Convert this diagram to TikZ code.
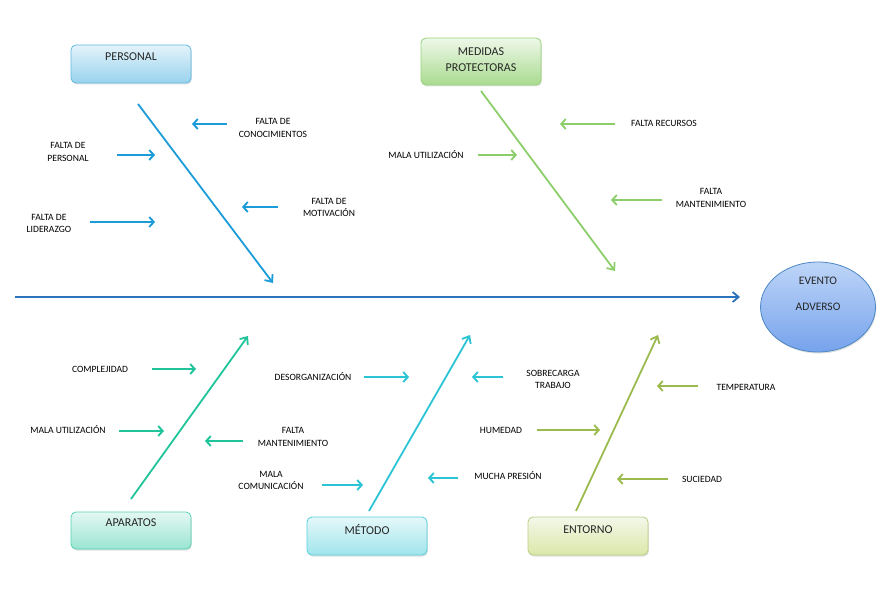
\documentclass[tikz,border=0pt]{standalone}
\usepackage{fontspec}
\setmainfont{Carlito}
\usetikzlibrary{arrows.meta,shapes.geometric,shadows}
\definecolor{spineC}{HTML}{2C73BB}
\definecolor{perC}{HTML}{1B9CD8}
\definecolor{medC}{HTML}{8CCF6A}
\definecolor{apaC}{HTML}{1FC49A}
\definecolor{metC}{HTML}{2AC4D4}
\definecolor{entC}{HTML}{9BBB4F}
\tikzset{
  bone/.style={line width=1.8pt,-{Straight Barb[length=6pt,width=10pt,line width=1.8pt]}},
  twig/.style={line width=2.2pt,-{Straight Barb[length=4.5pt,width=10pt,line width=1.9pt]}},
  lbl/.style={font=\fontsize{9.6}{12.5}\selectfont, align=center, text=black, inner sep=0pt},
  boxtext/.style={font=\fontsize{12}{16}\selectfont, align=center, text=black!85, inner sep=0pt},
  catbox/.style={draw, line width=0.8pt, rounded corners=5pt, minimum width=120pt,
     drop shadow={opacity=0.25, shadow xshift=0.8pt, shadow yshift=-1.5pt}},
}
\begin{document}
\begin{tikzpicture}[x=1pt,y=-1pt]
\useasboundingbox (0,0) rectangle (885,607);
% effect
\node[ellipse, draw=spineC!85, line width=0.8pt, top color={rgb,255:red,190;green,213;blue,248}, bottom color={rgb,255:red,118;green,163;blue,236},
  minimum width=115pt, minimum height=90pt,
  drop shadow={opacity=0.25, shadow xshift=0.8pt, shadow yshift=-1.5pt}] (evento) at (818,307) {};
\node[boxtext, font=\fontsize{11.5}{14}\selectfont] (eventoT) at (818,281) {EVENTO};
\node[boxtext, font=\fontsize{11.5}{14}\selectfont] (adversoT) at (818,307) {ADVERSO};
% spine
\coordinate (sp0) at (15,297);
\coordinate (sp1) at (740,297);
\draw[spineC, line width=1.8pt, -{Straight Barb[length=6pt,width=10pt,line width=1.8pt]}] (sp0) -- (sp1);

% boxes
\node[catbox, draw=perC!70, top color=perC!12, bottom color=perC!45, minimum height=38pt] (personal) at (131,64) {};
\node[boxtext] (personalT) at (131,57) {PERSONAL};
\node[catbox, draw=medC!90, top color=medC!15, bottom color=medC!75, minimum height=47pt] (medidas) at (481,61.5) {};
\node[boxtext] (medidasT) at (481,60) {MEDIDAS\\PROTECTORAS};
\node[catbox, draw=apaC!75, top color=apaC!12, bottom color=apaC!45, minimum height=37pt] (aparatos) at (131,530.5) {};
\node[boxtext] (aparatosT) at (131,523) {APARATOS};
\node[catbox, draw=metC!80, top color=metC!12, bottom color=metC!45, minimum height=38pt] (metodo) at (367,536) {};
\node[boxtext] (metodoT) at (367,530) {MÉTODO};
\node[catbox, draw=entC!70, top color=yellow!8!entC!12, bottom color=yellow!20!entC!45, minimum height=38pt] (entorno) at (588,536) {};
\node[boxtext] (entornoT) at (588,530) {ENTORNO};

% bones
\coordinate (b1s) at (138,104); \coordinate (b1e) at (273,283);
\coordinate (b2s) at (481,91);  \coordinate (b2e) at (615,271);
\coordinate (b3s) at (131,499); \coordinate (b3e) at (248,336);
\coordinate (b4s) at (369,511); \coordinate (b4e) at (470,335);
\coordinate (b5s) at (576,511); \coordinate (b5e) at (658,335);
\draw[bone, perC] (b1s) -- (b1e);
\draw[bone, medC] (b2s) -- (b2e);
\draw[bone, apaC] (b3s) -- (b3e);
\draw[bone, metC] (b4s) -- (b4e);
\draw[bone, entC] (b5s) -- (b5e);

% PERSONAL causes
\node[lbl] (p1) at (273,128) {FALTA DE\\CONOCIMIENTOS};
\coordinate (p1a) at (227,124); \coordinate (p1b) at (192,124);
\draw[twig, perC] (p1a) -- (p1b);
\node[lbl] (p2) at (68,152) {FALTA DE\\PERSONAL};
\coordinate (p2a) at (117,155); \coordinate (p2b) at (155,155);
\draw[twig, perC] (p2a) -- (p2b);
\node[lbl] (p3) at (49,223.5) {FALTA DE\\LIDERAZGO};
\coordinate (p3a) at (90,222); \coordinate (p3b) at (155,222);
\draw[twig, perC] (p3a) -- (p3b);
\node[lbl] (p4) at (329,207.5) {FALTA DE\\MOTIVACIÓN};
\coordinate (p4a) at (278,207); \coordinate (p4b) at (242,207);
\draw[twig, perC] (p4a) -- (p4b);

% MEDIDAS causes
\node[lbl] (m1) at (664,123) {FALTA RECURSOS};
\coordinate (m1a) at (615,124); \coordinate (m1b) at (560,124);
\draw[twig, medC] (m1a) -- (m1b);
\node[lbl] (m2) at (426,155) {MALA UTILIZACIÓN};
\coordinate (m2a) at (478,155); \coordinate (m2b) at (517,155);
\draw[twig, medC] (m2a) -- (m2b);
\node[lbl] (m3) at (711,198) {FALTA\\MANTENIMIENTO};
\coordinate (m3a) at (662,200); \coordinate (m3b) at (611,200);
\draw[twig, medC] (m3a) -- (m3b);

% APARATOS causes
\node[lbl] (a1) at (100,369) {COMPLEJIDAD};
\coordinate (a1a) at (152,369); \coordinate (a1b) at (196,369);
\draw[twig, apaC] (a1a) -- (a1b);
\node[lbl] (a2) at (68,430) {MALA UTILIZACIÓN};
\coordinate (a2a) at (119,431); \coordinate (a2b) at (164,431);
\draw[twig, apaC] (a2a) -- (a2b);
\node[lbl] (a3) at (293,437) {FALTA\\MANTENIMIENTO};
\coordinate (a3a) at (243,441); \coordinate (a3b) at (205,441);
\draw[twig, apaC] (a3a) -- (a3b);

% METODO causes
\node[lbl] (t1) at (313,377) {DESORGANIZACIÓN};
\coordinate (t1a) at (364,377); \coordinate (t1b) at (409,377);
\draw[twig, metC] (t1a) -- (t1b);
\node[lbl] (t2) at (553,379.5) {SOBRECARGA\\TRABAJO};
\coordinate (t2a) at (503,377); \coordinate (t2b) at (472,377);
\draw[twig, metC] (t2a) -- (t2b);
\node[lbl] (t3) at (271,480.5) {MALA\\COMUNICACIÓN};
\coordinate (t3a) at (322,485); \coordinate (t3b) at (363,485);
\draw[twig, metC] (t3a) -- (t3b);
\node[lbl] (t4) at (508,476) {MUCHA PRESIÓN};
\coordinate (t4a) at (458,478); \coordinate (t4b) at (428,478);
\draw[twig, metC] (t4a) -- (t4b);

% ENTORNO causes
\node[lbl] (e1) at (501,430) {HUMEDAD};
\coordinate (e1a) at (537,430); \coordinate (e1b) at (600,430);
\draw[twig, entC] (e1a) -- (e1b);
\node[lbl] (e2) at (746,387) {TEMPERATURA};
\coordinate (e2a) at (698,386); \coordinate (e2b) at (657,386);
\draw[twig, entC] (e2a) -- (e2b);
\node[lbl] (e3) at (702,479) {SUCIEDAD};
\coordinate (e3a) at (668,479); \coordinate (e3b) at (617,479);
\draw[twig, entC] (e3a) -- (e3b);
\end{tikzpicture}
\end{document}
